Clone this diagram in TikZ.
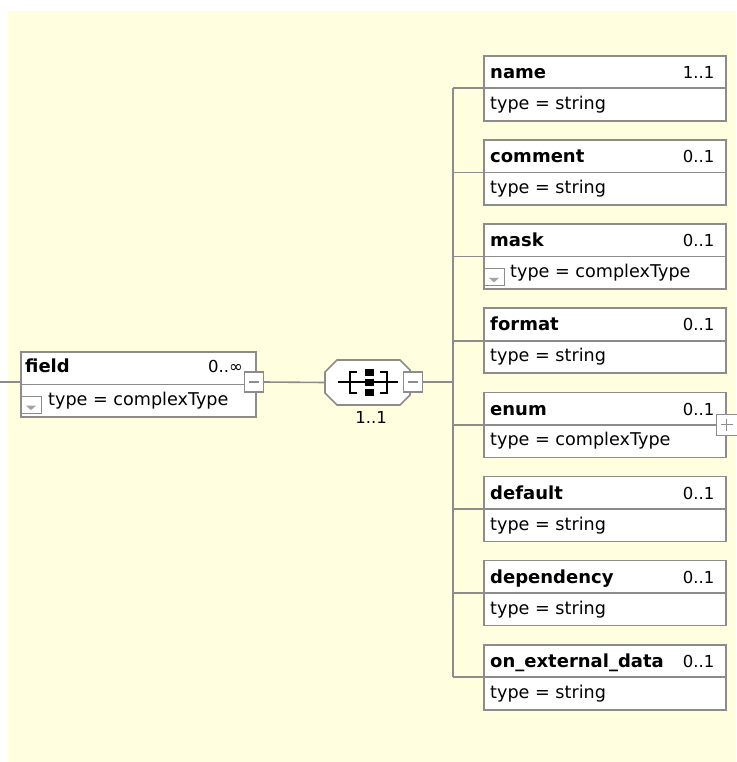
\documentclass[tikz,border=0pt]{standalone}
\usepackage{fontspec}
\setmainfont{DejaVu Sans}
\definecolor{bg}{HTML}{FFFFE0}
\definecolor{ln}{HTML}{8C8C8C}
\begin{document}
\begin{tikzpicture}[x=1pt,y=-1pt,
  elem/.style={draw=ln, line width=1.6pt, fill=white, minimum width=242pt, minimum height=65pt, inner sep=0pt, anchor=north west},
  titletxt/.style={font=\bfseries\fontsize{18}{18}\selectfont, anchor=base west, inner sep=0pt},
  multtxt/.style={font=\fontsize{16.5}{17}\selectfont, anchor=base east, inner sep=0pt},
  typetxt/.style={font=\fontsize{17.6}{18}\selectfont, anchor=base west, inner sep=0pt},
  conn/.style={draw=ln, line width=1.6pt},
  btn/.style={draw=ln, line width=1.2pt, fill=white, minimum width=19pt, minimum height=20pt, inner sep=0pt},
  dropicon/.style={draw=ln, line width=1pt, minimum width=21pt, minimum height=17pt, inner sep=0pt, anchor=south west},
]
\useasboundingbox (0,0) rectangle (736,762);
\fill[bg] (8,11) rectangle (736,762);

% ---------- field element ----------
\node[elem, minimum width=235pt] (field) at (20,351) {};
\draw[conn] (field.west) -- (field.east);
\node[titletxt] (ftitle) at (25,372) {field};
\node[multtxt] (fmult) at (243,372) {0..∞};
\node[dropicon] (ficon) at ([yshift=4pt]field.south west) {};
\fill[ln!80] ([xshift=-5pt,yshift=-1pt]ficon.center) -- ([xshift=5pt,yshift=-1pt]ficon.center) -- ([yshift=-5.5pt]ficon.center) -- cycle;
\node[typetxt] (ftype) at (48,405) {type = complexType};
\node[btn] (fbtn) at (254,382) {};
\draw[ln, line width=1.2pt] ([xshift=-5pt]fbtn.center) -- ([xshift=5pt]fbtn.center);
\coordinate (lstub) at (0,382);
\draw[conn] (lstub) -- (field.west |- lstub);

% ---------- sequence compositor ----------
\node[minimum width=85pt, minimum height=45pt, inner sep=0pt] (seq) at (367.5,382.5) {};
\draw[draw=ln, line width=1.6pt, fill=white] (337,360) -- (400,360) -- (410,370) -- (410,395) -- (400,405) -- (337,405) -- (325,393) -- (325,372) -- cycle;
\draw[black, line width=1.8pt] (338,382) -- (398,382);
\draw[black, line width=1.8pt] (357,372) -- (350,372) -- (350,393) -- (357,393);
\draw[black, line width=1.8pt] (380,372) -- (387,372) -- (387,393) -- (380,393);
\fill[black] (365,369) rectangle (374,375.5);
\fill[black] (365,379) rectangle (374,385.5);
\fill[black] (365,389) rectangle (374,395.5);
\node[btn] (sbtn) at (413,382) {};
\draw[ln, line width=1.2pt] ([xshift=-5pt]sbtn.center) -- ([xshift=5pt]sbtn.center);
\node[font=\fontsize{16.5}{17}\selectfont, anchor=base, inner sep=0pt] (seqmult) at (371,423) {1..1};

\draw[conn] (fbtn.east) -- (seq.west);

% ---------- child elements ----------
\coordinate (trunk) at (453,382);
\foreach \nm/\mu [count=\i from 0] in {name/1..1, comment/0..1, mask/0..1, format/0..1, enum/0..1, default/0..1, dependency/0..1, on\_external\_data/0..1}{
  \pgfmathsetmacro\ty{55+84.14*\i}
  \node[elem] (e\i) at (483,\ty) {};
  \draw[conn] (e\i.west) -- (e\i.east);
  \node[titletxt] (t\i) at ([xshift=7pt,yshift=-23.5pt]e\i.north west) {\nm};
  \node[multtxt] (m\i) at ([xshift=-12pt,yshift=-23.5pt]e\i.north east) {\mu};
  \draw[conn] (e\i.west -| trunk) -- (e\i.west);
}
\draw[conn] (e0.west -| trunk) -- (e7.west -| trunk);
\draw[conn] (sbtn.east) -- (trunk);

\foreach \i in {0,1,3,5,6,7}{
  \node[typetxt] (y\i) at ([xshift=7pt,yshift=-54.3pt]e\i.north west) {type = string};
}
% mask
\node[dropicon] (micon) at ([yshift=4pt]e2.south west) {};
\fill[ln!80] ([xshift=-5pt,yshift=-1pt]micon.center) -- ([xshift=5pt,yshift=-1pt]micon.center) -- ([yshift=-5.5pt]micon.center) -- cycle;
\node[typetxt] (y2) at ([xshift=27pt,yshift=-54.3pt]e2.north west) {type = complexType};
% enum
\node[typetxt] (y4) at ([xshift=7pt,yshift=-54.3pt]e4.north west) {type = complexType};
\node[btn, minimum width=21pt, minimum height=21pt] (ebtn) at (e4.east) {};
\draw[ln, line width=1.2pt] ([xshift=-6pt]ebtn.center) -- ([xshift=6pt]ebtn.center);
\draw[ln, line width=1.2pt] ([yshift=-6pt]ebtn.center) -- ([yshift=6pt]ebtn.center);
\end{tikzpicture}
\end{document}
